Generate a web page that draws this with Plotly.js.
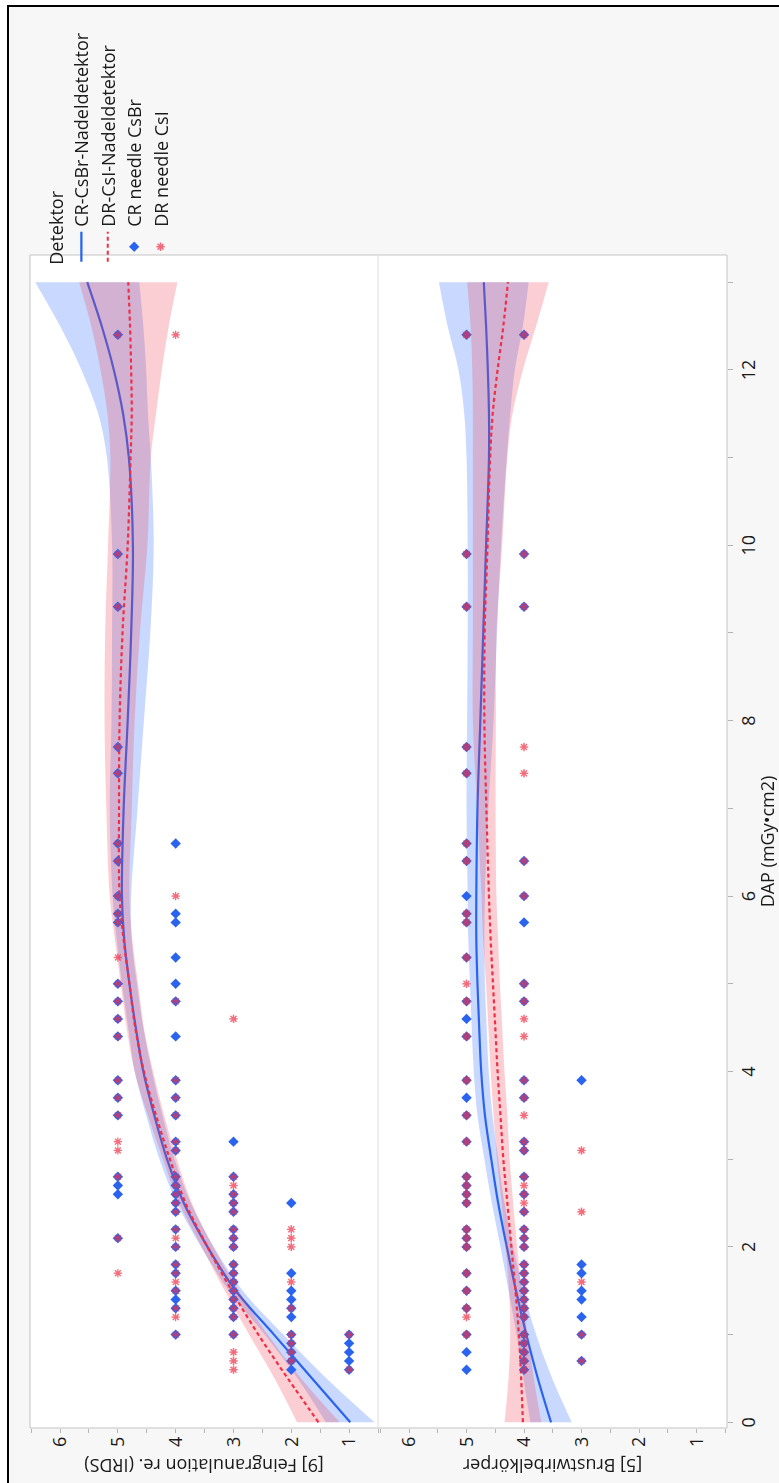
<!DOCTYPE html>
<html>
<head>
<meta charset="utf-8">
<script src="https://cdn.plot.ly/plotly-3.0.1.min.js"></script>
<style>
  html, body { margin: 0; padding: 0; width: 779px; height: 1483px; overflow: hidden; background: #fff; }
  #sheet { position: absolute; left: 7px; top: 5px; width: 772px; height: 1478px;
           border-left: 2px solid #000; border-top: 2px solid #000; background: #f7f7f7; }
  /* the chart is laid out landscape and turned a quarter turn counter-clockwise */
  #chart { position: absolute; left: 0; top: 0; width: 1483px; height: 779px;
           transform-origin: 0 0; transform: translate(0, 1483px) rotate(-90deg); }
</style>
</head>
<body>
<div id="sheet"></div>
<div id="chart"></div>
<script>
// ---- observed scores: DAP (mGy·cm²) and score, one pair of arrays per panel and detector ----
// [9] Feingranulation, CR needle CsBr
const feinCrDap = [
  2.1, 2.6, 2.7, 2.8, 3.5, 3.7, 3.9, 4.4, 4.6, 4.8, 5.0, 5.7, 5.8, 6.0, 6.4, 6.6, 7.4, 7.7, 9.3, 9.9, 12.4,
  1.0, 1.3, 1.4, 1.5, 1.7, 1.8, 2.0, 2.2, 2.4, 2.5, 2.6, 2.7, 2.8, 3.1, 3.2, 3.5, 3.7, 3.9, 4.4, 4.8, 5.0, 5.3, 5.7, 5.8, 6.6,
  1.0, 1.2, 1.3, 1.4, 1.5, 1.6, 1.7, 1.8, 2.0, 2.1, 2.2, 2.4, 2.5, 2.6, 2.8, 3.2,
  0.6, 0.7, 0.8, 0.9, 1.0, 1.2, 1.3, 1.4, 1.5, 1.7, 2.5,
  0.6, 0.7, 0.8, 0.9, 1.0
];
const feinCrScore = [
  5,5,5,5,5,5,5,5,5,5,5,5,5,5,5,5,5,5,5,5,5,
  4,4,4,4,4,4,4,4,4,4,4,4,4,4,4,4,4,4,4,4,4,4,4,4,4,
  3,3,3,3,3,3,3,3,3,3,3,3,3,3,3,3,
  2,2,2,2,2,2,2,2,2,2,2,
  1,1,1,1,1
];
// [9] Feingranulation, DR needle CsI
const feinDrDap = [
  1.7, 2.1, 2.8, 3.1, 3.2, 3.5, 3.7, 3.9, 4.4, 4.6, 4.8, 5.0, 5.3, 5.7, 5.8, 6.0, 6.4, 6.6, 7.4, 7.7, 9.3, 9.9, 12.4,
  1.0, 1.2, 1.3, 1.5, 1.6, 1.7, 1.8, 2.0, 2.1, 2.2, 2.4, 2.5, 2.6, 2.7, 2.8, 3.1, 3.2, 3.5, 3.7, 3.9, 4.8, 6.0, 12.4,
  0.6, 0.7, 0.8, 1.0, 1.2, 1.3, 1.4, 1.5, 1.6, 1.7, 1.8, 2.0, 2.1, 2.2, 2.4, 2.5, 2.6, 2.7, 2.8, 4.6,
  0.7, 0.8, 0.9, 1.0, 1.3, 1.6, 2.0, 2.1, 2.2,
  0.6, 1.0
];
const feinDrScore = [
  5,5,5,5,5,5,5,5,5,5,5,5,5,5,5,5,5,5,5,5,5,5,5,
  4,4,4,4,4,4,4,4,4,4,4,4,4,4,4,4,4,4,4,4,4,4,4,
  3,3,3,3,3,3,3,3,3,3,3,3,3,3,3,3,3,3,3,3,
  2,2,2,2,2,2,2,2,2,
  1,1
];
// [5] Brustwirbelkörper, CR needle CsBr
const bwkCrDap = [
  0.6, 0.8, 1.0, 1.3, 1.5, 1.7, 2.0, 2.1, 2.2, 2.5, 2.6, 2.7, 2.8, 3.2, 3.5, 3.7, 3.9, 4.4, 4.6, 4.8, 5.3, 5.7, 5.8, 6.0, 6.4, 6.6, 7.4, 7.7, 9.3, 9.9, 12.4,
  0.6, 0.7, 0.8, 0.9, 1.0, 1.2, 1.3, 1.4, 1.5, 1.6, 1.7, 1.8, 2.0, 2.1, 2.2, 2.4, 2.6, 2.8, 3.1, 3.2, 3.7, 3.9, 4.8, 5.0, 5.7, 6.0, 6.4, 9.3, 9.9, 12.4,
  0.7, 1.0, 1.2, 1.4, 1.5, 1.7, 1.8, 3.9
];
const bwkCrScore = [
  5,5,5,5,5,5,5,5,5,5,5,5,5,5,5,5,5,5,5,5,5,5,5,5,5,5,5,5,5,5,5,
  4,4,4,4,4,4,4,4,4,4,4,4,4,4,4,4,4,4,4,4,4,4,4,4,4,4,4,4,4,4,
  3,3,3,3,3,3,3,3
];
// [5] Brustwirbelkörper, DR needle CsI
const bwkDrDap = [
  1.0, 1.2, 1.3, 1.5, 1.7, 2.0, 2.1, 2.2, 2.5, 2.6, 2.7, 2.8, 3.2, 3.5, 3.9, 4.4, 4.8, 5.0, 5.3, 5.7, 5.8, 6.4, 6.6, 7.4, 7.7, 9.3, 9.9, 12.4,
  0.6, 0.7, 0.8, 0.9, 1.0, 1.2, 1.3, 1.4, 1.5, 1.6, 1.7, 1.8, 2.0, 2.1, 2.2, 2.4, 2.5, 2.6, 2.7, 2.8, 3.1, 3.2, 3.5, 3.7, 3.9, 4.4, 4.6, 4.8, 5.0, 6.0, 6.4, 7.4, 7.7, 9.3, 9.9, 12.4,
  0.7, 1.0, 1.6, 2.4, 3.1
];
const bwkDrScore = [
  5,5,5,5,5,5,5,5,5,5,5,5,5,5,5,5,5,5,5,5,5,5,5,5,5,5,5,5,
  4,4,4,4,4,4,4,4,4,4,4,4,4,4,4,4,4,4,4,4,4,4,4,4,4,4,4,4,4,4,4,4,4,4,4,4,
  3,3,3,3,3
];

// ---- smoothing fits with confidence bands, sampled on a DAP grid ----
const fitDap = [0, 0.5, 1, 1.5, 2, 2.5, 3, 3.5, 4, 4.5, 5, 5.5, 6, 7, 8, 9, 10, 11, 11.5, 12, 12.5, 13];

const feinCrFit = [0.98, 1.64, 2.30, 2.96, 3.45, 3.86, 4.15, 4.37, 4.56, 4.69, 4.80, 4.89, 4.93, 4.90, 4.83, 4.77, 4.74, 4.81, 4.91, 5.07, 5.28, 5.53];
const feinCrLo  = [0.56, 1.39, 2.14, 2.84, 3.34, 3.74, 4.02, 4.23, 4.41, 4.56, 4.67, 4.76, 4.77, 4.66, 4.55, 4.44, 4.38, 4.43, 4.48, 4.51, 4.56, 4.63];
const feinCrHi  = [1.40, 1.89, 2.46, 3.08, 3.56, 3.98, 4.28, 4.51, 4.71, 4.82, 4.93, 5.02, 5.09, 5.14, 5.11, 5.10, 5.10, 5.19, 5.34, 5.63, 6.00, 6.43];

const feinDrFit = [1.53, 2.06, 2.57, 3.03, 3.45, 3.83, 4.10, 4.34, 4.55, 4.70, 4.80, 4.90, 4.97, 4.98, 4.97, 4.92, 4.83, 4.78, 4.76, 4.77, 4.79, 4.82];
const feinDrLo  = [1.16, 1.83, 2.41, 2.91, 3.35, 3.72, 3.98, 4.20, 4.39, 4.55, 4.65, 4.75, 4.80, 4.76, 4.71, 4.62, 4.49, 4.43, 4.34, 4.24, 4.12, 3.97];
const feinDrHi  = [1.90, 2.29, 2.73, 3.15, 3.55, 3.94, 4.22, 4.48, 4.71, 4.85, 4.95, 5.05, 5.14, 5.20, 5.23, 5.22, 5.17, 5.13, 5.18, 5.30, 5.46, 5.67];

const bwkCrFit = [3.53, 3.76, 3.96, 4.14, 4.30, 4.45, 4.57, 4.68, 4.745, 4.78, 4.81, 4.83, 4.83, 4.81, 4.76, 4.71, 4.66, 4.61, 4.61, 4.63, 4.66, 4.70];
const bwkCrLo  = [3.17, 3.51, 3.79, 4.01, 4.19, 4.34, 4.45, 4.55, 4.615, 4.65, 4.68, 4.69, 4.68, 4.62, 4.53, 4.47, 4.40, 4.30, 4.24, 4.16, 4.02, 3.92];
const bwkCrHi  = [3.89, 4.01, 4.13, 4.27, 4.41, 4.56, 4.69, 4.81, 4.875, 4.91, 4.94, 4.97, 4.98, 5.00, 4.99, 4.98, 4.98, 5.00, 5.04, 5.14, 5.33, 5.48];

const bwkDrFit = [4.02, 4.05, 4.09, 4.15, 4.22, 4.29, 4.36, 4.41, 4.46, 4.50, 4.54, 4.58, 4.61, 4.655, 4.69, 4.685, 4.635, 4.59, 4.545, 4.46, 4.36, 4.28];
const bwkDrLo  = [3.70, 3.83, 3.94, 4.04, 4.12, 4.19, 4.25, 4.29, 4.34, 4.38, 4.42, 4.45, 4.48, 4.495, 4.49, 4.48, 4.38, 4.29, 4.20, 4.02, 3.79, 3.57];
const bwkDrHi  = [4.34, 4.27, 4.24, 4.26, 4.32, 4.39, 4.47, 4.53, 4.58, 4.62, 4.66, 4.71, 4.74, 4.815, 4.89, 4.89, 4.89, 4.89, 4.89, 4.90, 4.93, 4.99];

// ---- axis ticks and labels ----
const dapTicks = [0, 2, 4, 6, 8, 10, 12];
const scoreTicks = [1, 2, 3, 4, 5, 6];
const legendNames = ['CR-CsBr-Nadeldetektor', 'DR-CsI-Nadeldetektor', 'CR needle CsBr', 'DR needle CsI'];

// ---- styling ----
const BLUE = '#2a63ee';
const RED = '#ee2f45';
const BLUE_BAND = 'rgba(40,100,255,0.25)';
const RED_BAND = 'rgba(240,60,80,0.25)';
const TICK_GREY = '#b4b4b4';
const FONT = '"Open Sans", "Noto Sans", sans-serif';

function bandTraces(lo, hi, fill, yaxis) {
  return [
    { x: fitDap, y: lo, yaxis: yaxis, mode: 'lines', line: { width: 0, shape: 'spline', smoothing: 1 },
      showlegend: false, hoverinfo: 'skip' },
    { x: fitDap, y: hi, yaxis: yaxis, mode: 'lines', line: { width: 0, shape: 'spline', smoothing: 1 },
      fill: 'tonexty', fillcolor: fill, showlegend: false, hoverinfo: 'skip' }
  ];
}

function fitTrace(y, color, dash, yaxis, name, rank, legend) {
  return { x: fitDap, y: y, yaxis: yaxis, mode: 'lines', name: name, legendrank: rank, showlegend: legend,
           line: { color: color, width: 2.2, dash: dash, shape: 'spline', smoothing: 1 } };
}

function crPoints(x, y, yaxis, legend) {
  return { x: x, y: y, yaxis: yaxis, mode: 'markers', name: legendNames[2], legendrank: 3, showlegend: legend,
           marker: { symbol: 'diamond', size: 8, color: BLUE, line: { width: 0 } } };
}

function drPoints(x, y, yaxis, legend) {
  return { x: x, y: y, yaxis: yaxis, mode: 'markers', name: legendNames[3], legendrank: 4, showlegend: legend,
           opacity: 0.7,
           marker: { symbol: 'asterisk-open', size: 7, color: RED, line: { width: 1.4, color: RED } } };
}

const traces = [].concat(
  // upper panel
  bandTraces(feinCrLo, feinCrHi, BLUE_BAND, 'y'),
  [fitTrace(feinCrFit, BLUE, 'solid', 'y', legendNames[0], 1, true)],
  bandTraces(feinDrLo, feinDrHi, RED_BAND, 'y'),
  [fitTrace(feinDrFit, RED, '4px,3px', 'y', legendNames[1], 2, true)],
  [crPoints(feinCrDap, feinCrScore, 'y', true), drPoints(feinDrDap, feinDrScore, 'y', true)],
  // lower panel
  bandTraces(bwkCrLo, bwkCrHi, BLUE_BAND, 'y2'),
  [fitTrace(bwkCrFit, BLUE, 'solid', 'y2', legendNames[0], 1, false)],
  bandTraces(bwkDrLo, bwkDrHi, RED_BAND, 'y2'),
  [fitTrace(bwkDrFit, RED, '4px,3px', 'y2', legendNames[1], 2, false)],
  [crPoints(bwkCrDap, bwkCrScore, 'y2', false), drPoints(bwkDrDap, bwkDrScore, 'y2', false)]
);

const split = 349 / 697;

function scoreAxis(domain, range, title) {
  return {
    domain: domain, range: range, anchor: 'x',
    tickvals: scoreTicks, ticks: 'outside', ticklen: 4, tickcolor: TICK_GREY, tickwidth: 1,
    minor: { dtick: 0.5, tick0: 0.5, ticks: 'outside', ticklen: 4, tickcolor: TICK_GREY },
    showgrid: false, zeroline: false, showline: false,
    tickfont: { size: 18 },
    title: { text: title, font: { size: 18 }, standoff: 6 }
  };
}

const layout = {
  width: 1483, height: 779,
  paper_bgcolor: 'rgba(0,0,0,0)', plot_bgcolor: '#ffffff',
  margin: { l: 55, r: 255, t: 30, b: 52 },
  font: { family: FONT, size: 18, color: '#1a1a1a' },
  xaxis: {
    range: [-0.065, 13.31], anchor: 'y2',
    tickvals: dapTicks, ticks: 'outside', ticklen: 5, tickcolor: TICK_GREY,
    minor: { dtick: 1, tick0: 0, ticks: 'outside', ticklen: 5, tickcolor: TICK_GREY },
    showgrid: false, zeroline: false, showline: false,
    tickfont: { size: 18 },
    title: { text: 'DAP (mGy•cm2)', font: { size: 18 }, standoff: 4 }
  },
  yaxis: scoreAxis([split, 1], [0.5, 6.52], '[9] Feingranulation re. (IRDS)'),
  yaxis2: scoreAxis([0, split], [0.47, 6.54], '[5] Brustwirbelkörper'),
  showlegend: true,
  legend: {
    x: 0.99, xanchor: 'left', y: 0.986, yanchor: 'top',
    bgcolor: 'rgba(0,0,0,0)', borderwidth: 0,
    font: { size: 18, family: FONT, color: '#1a1a1a' },
    title: { text: 'Detektor', font: { size: 18, family: FONT } },
    itemwidth: 30, tracegroupgap: 0, traceorder: 'normal'
  },
  shapes: [
    { type: 'rect', xref: 'paper', yref: 'paper', x0: 0, x1: 1, y0: 0, y1: 1,
      line: { color: '#c4c4c4', width: 1 }, fillcolor: 'rgba(0,0,0,0)', layer: 'above' },
    { type: 'line', xref: 'paper', yref: 'paper', x0: 0, x1: 1, y0: split, y1: split,
      line: { color: '#dcdcdc', width: 1 }, layer: 'above' }
  ]
};

Plotly.newPlot('chart', traces, layout, { staticPlot: true, displayModeBar: false });
</script>
</body>
</html>
